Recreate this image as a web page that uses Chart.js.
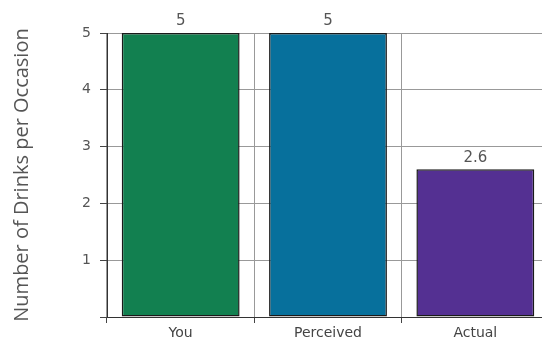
<!DOCTYPE html>
<html>
<head>
<meta charset="utf-8">
<script src="https://cdn.jsdelivr.net/npm/chart.js@4/dist/chart.umd.min.js"></script>
<style>
  html, body { margin: 0; padding: 0; background: #fff; overflow: hidden; }
  #wrap { width: 550px; height: 341px; position: relative; }
</style>
</head>
<body>
<div id="wrap"><canvas id="c"></canvas></div>
<script>
// Drinks per occasion: own estimate, perceived norm, actual norm
const categories = ['You', 'Perceived', 'Actual'];
const drinks = [5, 5, 2.6];
const barColors = ['#128050', '#07709c', '#543092'];
const yTicks = [0, 1, 2, 3, 4, 5];

// Writes each bar's value just above its top
const valueLabels = {
  id: 'valueLabels',
  afterDatasetsDraw(chart) {
    const ctx = chart.ctx;
    const meta = chart.getDatasetMeta(0);
    ctx.save();
    ctx.font = '15px "DejaVu Sans", sans-serif';
    ctx.fillStyle = '#555';
    ctx.textAlign = 'center';
    ctx.textBaseline = 'bottom';
    meta.data.forEach((bar, i) => {
      ctx.fillText(String(drinks[i]), bar.x, bar.y - 4);
    });
    ctx.restore();
  }
};

new Chart(document.getElementById('c'), {
  type: 'bar',
  data: {
    labels: categories,
    datasets: [{
      data: drinks,
      backgroundColor: barColors,
      borderColor: '#1a1a1a',
      borderWidth: 1.5,
      borderSkipped: false,
      barPercentage: 0.8,
      categoryPercentage: 1.0
    }]
  },
  options: {
    responsive: true,
    maintainAspectRatio: false,
    animation: false,
    layout: { padding: { top: 33, right: 1, bottom: 0, left: 0 } },
    plugins: {
      legend: { display: false },
      tooltip: { enabled: false }
    },
    scales: {
      x: {
        offset: true,
        grid: {
          offset: true,
          color: '#999',
          tickColor: '#444',
          tickLength: 6,
          drawOnChartArea: true
        },
        border: { color: '#333', width: 1 },
        ticks: {
          color: '#444',
          font: { family: '"DejaVu Sans", sans-serif', size: 14 },
          padding: 2
        },
        afterFit(scale) { scale.height = 24; }
      },
      y: {
        min: 0,
        max: 5,
        afterBuildTicks(scale) { scale.ticks = yTicks.map(v => ({ value: v })); },
        grid: {
          color: '#999',
          tickColor: '#444',
          tickLength: 7
        },
        border: { color: '#333', width: 1 },
        ticks: {
          color: '#555',
          font: { family: '"DejaVu Sans", sans-serif', size: 14 },
          padding: 9,
          callback: (v) => (v === 0 ? '' : v)
        },
        title: {
          display: true,
          text: 'Number of Drinks per Occasion',
          color: '#555',
          font: { family: '"Open Sans", sans-serif', size: 20 },
          padding: { top: 10, bottom: 0 }
        },
        afterFit(scale) { scale.width = 107; }
      }
    }
  },
  plugins: [valueLabels]
});
</script>
</body>
</html>
